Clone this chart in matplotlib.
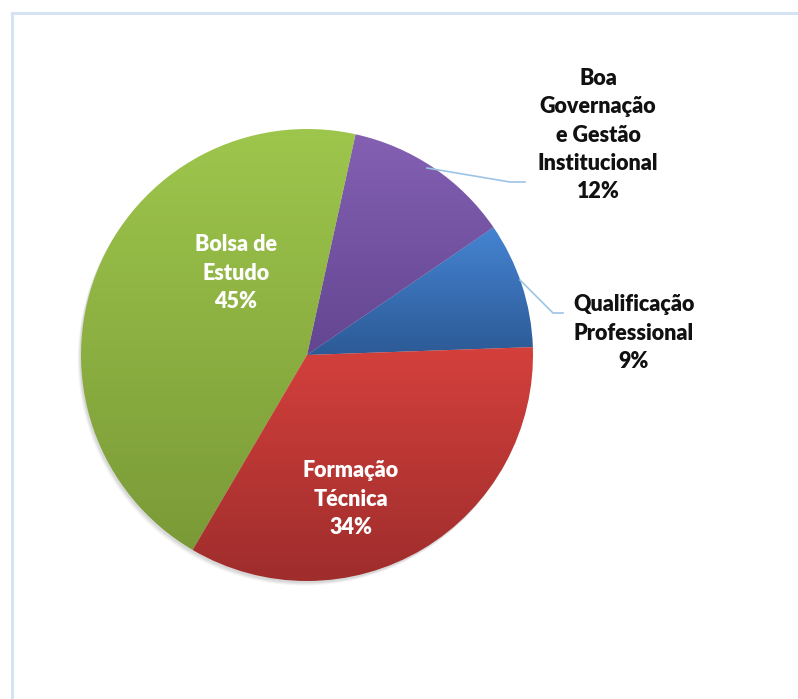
import numpy as np
import matplotlib.pyplot as plt
from matplotlib.colors import LinearSegmentedColormap
from matplotlib.patches import Circle

# Pie data (order counter-clockwise from the right)
labels = ["Qualificação\nProfessional", "Boa\nGovernação\ne Gestão\nInstitucional",
          "Bolsa de\nEstudo", "Formação\nTécnica"]
values = [9, 12, 45, 34]
top_colors = ["#4584D2", "#8460B3", "#9EC64C", "#D4403C"]
bottom_colors = ["#2C5A96", "#634691", "#7A9A37", "#9E2D2C"]
text_colors = ["#111111", "#111111", "white", "white"]

W, H = 798, 699
R = 226.0
cx, cy = 307, H - 355


def px(x, y):
    # figure pixel (from top-left) -> data units
    return (x - cx) / R, (H - y - cy) / R


fig = plt.figure(figsize=(W / 100, H / 100), dpi=100)
ax = fig.add_axes([0, 0, 1, 1])

# soft shadow under the pie
for k, a in enumerate([0.10, 0.08, 0.06]):
    ax.add_patch(Circle((-0.006 - 0.004 * k, -0.010 - 0.005 * k), 1.0,
                        color="#555555", alpha=a, lw=0, zorder=0))

wedges, _ = ax.pie(values, startangle=2, counterclock=True, radius=1,
                   wedgeprops=dict(linewidth=0))

grad = np.linspace(0, 1, 256).reshape(-1, 1)
for w, c0, c1 in zip(wedges, bottom_colors, top_colors):
    w.set_facecolor("none")
    w.set_zorder(1)
    bb = w.get_path().get_extents()
    cmap = LinearSegmentedColormap.from_list("g", [c0, c1])
    img = ax.imshow(grad, extent=[bb.x0, bb.x1, bb.y0, bb.y1], origin="lower",
                    cmap=cmap, aspect="auto", zorder=2, interpolation="bilinear")
    img.set_clip_path(w)

ax.set_xlim(-cx / R, (W - cx) / R)
ax.set_ylim(-cy / R, (H - cy) / R)
ax.set_aspect("auto")
ax.axis("off")

# leader lines
lc = "#9DC3E6"
for pts in ([(427, 168), (510, 182), (525, 182)],
            [(520, 280), (553, 313), (563, 313)]):
    xs, ys = zip(*[px(*p) for p in pts])
    ax.plot(xs, ys, color=lc, lw=1.2, zorder=3)

# labels
label_pos = [(634, 333), (598, 135), (236, 273), (351, 499)]
for lab, v, pos, tc in zip(labels, values, label_pos, text_colors):
    x, y = px(*pos)
    ax.text(x, y, f"{lab}\n{v}%", ha="center", va="center", color=tc,
            fontsize=15.5, fontweight="heavy", family="Lato", linespacing=1.42,
            zorder=4)

# chart border (top and left edges visible)
bc = "#D5E3F5"
fig.add_artist(plt.Line2D([11.5 / W, 1], [1 - 12.5 / H, 1 - 12.5 / H],
                          transform=fig.transFigure, color=bc, lw=2.2))
fig.add_artist(plt.Line2D([11.5 / W, 11.5 / W], [0, 1 - 12.5 / H],
                          transform=fig.transFigure, color=bc, lw=2.2))

fig.savefig("out.png", dpi=100, facecolor="white")
